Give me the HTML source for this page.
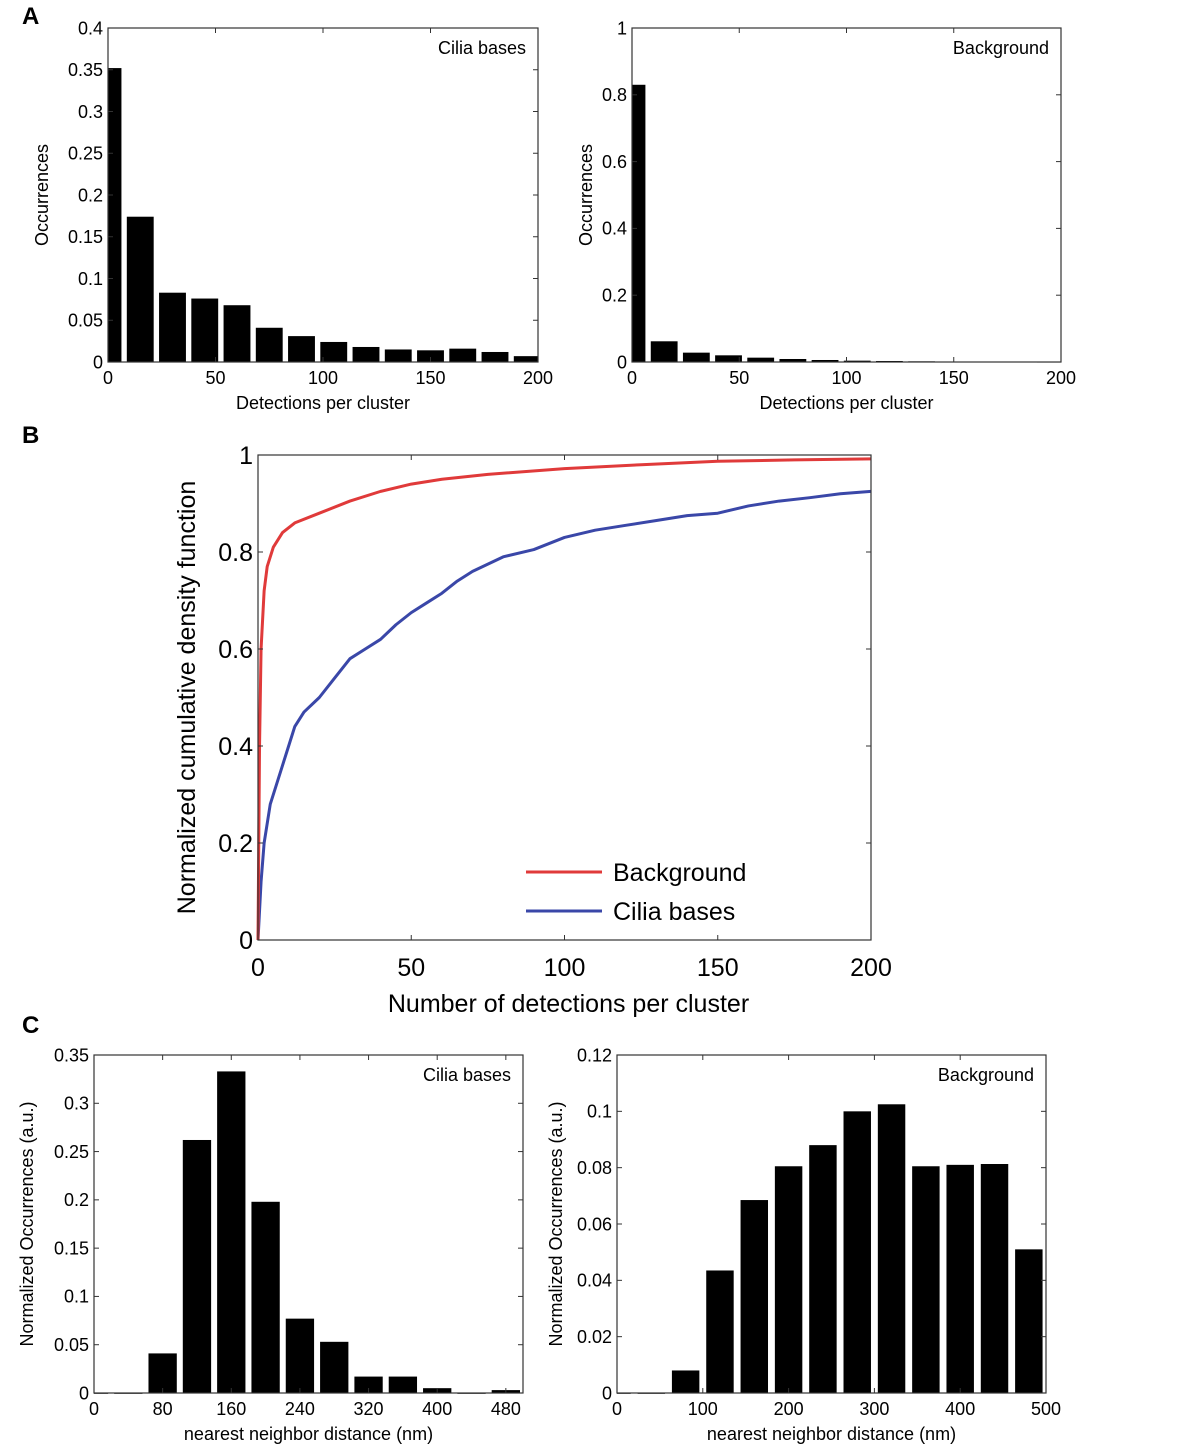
<!DOCTYPE html>
<html><head><meta charset="utf-8"><style>
html,body{margin:0;padding:0;background:#fff;}
svg{display:block;font-family:"Liberation Sans",Arial,sans-serif;}
</style></head><body>
<svg id="fig" width="1184" height="1448" viewBox="0 0 1184 1448">
<text x="22" y="24" font-size="24" font-weight="bold">A</text>
<text x="22" y="443" font-size="24" font-weight="bold">B</text>
<text x="22" y="1033" font-size="24" font-weight="bold">C</text>
</svg>
<script>
// Panel A left: cilia bases histogram
const aCenters = [0,15,30,45,60,75,90,105,120,135,150,165,180,195];
const aCiliaValues = [0.352,0.174,0.083,0.076,0.068,0.041,0.031,0.024,0.018,0.015,0.014,0.016,0.012,0.007];
const aCiliaYTicks = [0,0.05,0.1,0.15,0.2,0.25,0.3,0.35,0.4];
const aXTicks = [0,50,100,150,200];
// Panel A right: background histogram
const aBgValues = [0.83,0.062,0.028,0.02,0.013,0.009,0.006,0.004,0.003,0.002,0.0015,0.001,0.001,0.0008];
const aBgYTicks = [0,0.2,0.4,0.6,0.8,1];
// Panel B: CDFs
const bBgX = [0,0.5,1,2,3,5,8,12,20,30,40,50,60,75,100,125,150,175,200];
const bBgY = [0,0.4,0.6,0.72,0.77,0.81,0.84,0.86,0.88,0.905,0.925,0.94,0.95,0.96,0.972,0.98,0.987,0.99,0.992];
const bCiliaX = [0,1,2,4,6,8,10,12,15,20,25,30,35,40,45,50,55,60,65,70,75,80,90,100,110,120,130,140,150,160,170,180,190,200];
const bCiliaY = [0,0.12,0.2,0.28,0.32,0.36,0.4,0.44,0.47,0.5,0.54,0.58,0.6,0.62,0.65,0.675,0.695,0.715,0.74,0.76,0.775,0.79,0.805,0.83,0.845,0.855,0.865,0.875,0.88,0.895,0.905,0.912,0.92,0.925];
const bXTicks = [0,50,100,150,200];
const bYTicks = [0,0.2,0.4,0.6,0.8,1];
const bYTickLabels = ['0','0.2','0.4','0.6','0.8','1'];
// Panel C
const cCenters = [0,40,80,120,160,200,240,280,320,360,400,440,480];
const cCiliaValues = [0,0,0.041,0.262,0.333,0.198,0.077,0.053,0.017,0.017,0.005,0,0.003];
const cCiliaYTicks = [0,0.05,0.1,0.15,0.2,0.25,0.3,0.35];
const cCiliaXTicks = [0,80,160,240,320,400,480];
const cBgValues = [0,0,0.008,0.0435,0.0685,0.0805,0.088,0.1,0.1025,0.0805,0.081,0.0813,0.051];
const cBgYTicks = [0,0.02,0.04,0.06,0.08,0.1,0.12];
const cBgXTicks = [0,100,200,300,400,500];

const NS='http://www.w3.org/2000/svg';
const svg=document.getElementById('fig');
function mk(tag,attrs,parent){const e=document.createElementNS(NS,tag);for(const k in attrs)e.setAttribute(k,attrs[k]);(parent||svg).appendChild(e);return e;}
function fmt(v){return String(+v.toFixed(4));}

function axesFrame(g,box,xs,ys,xt,yt,fs,ytl,name,xoff){
  mk('rect',{x:box.l,y:box.t,width:box.r-box.l,height:box.b-box.t,fill:'none',stroke:'#333','stroke-width':1.2},g);
  xt.forEach((v,i)=>{const x=xs(v);
    mk('line',{x1:x,x2:x,y1:box.b,y2:box.b-5,stroke:'#333'},g);
    mk('line',{x1:x,x2:x,y1:box.t,y2:box.t+5,stroke:'#333'},g);
    const t=mk('text',{x:x,y:box.b+fs+xoff,'font-size':fs,'text-anchor':'middle'},g);
    
    
    t.textContent=fmt(v);});
  yt.forEach((v,i)=>{const y=ys(v);
    mk('line',{x1:box.l,x2:box.l+5,y1:y,y2:y,stroke:'#333'},g);
    mk('line',{x1:box.r,x2:box.r-5,y1:y,y2:y,stroke:'#333'},g);
    const t=mk('text',{x:box.l-5,y:y+fs*0.35,'font-size':fs,'text-anchor':'end'},g);
    
    
    t.textContent=ytl?ytl[i]:fmt(v);});
}

function histogram(name,box,xmax,ymax,centers,values,width,xt,yt,ylab,xlab,title,ylabX){
  const g=mk('g',{});
  
  
  const xs=v=>box.l+(v/xmax)*(box.r-box.l);
  const ys=v=>box.b-(v/ymax)*(box.b-box.t);
  centers.forEach((c,i)=>{
    let x0=Math.max(0,c-width/2), x1=Math.min(xmax,c+width/2);
    const h=Math.max(values[i],0);
    const r=mk('rect',{x:xs(x0),y:ys(h),width:xs(x1)-xs(x0),height:Math.max(ys(0)-ys(h),0.8),fill:'#000'},g);
    
    
  });
  axesFrame(g,box,xs,ys,xt,yt,18,null,name,4);
  const tt=mk('text',{x:box.r-12,y:box.t+26,'font-size':18,'text-anchor':'end'},g);
  
  
  tt.textContent=title;
  const xl=mk('text',{x:(box.l+box.r)/2,y:box.b+47,'font-size':18,'text-anchor':'middle'},g);
  
  
  xl.textContent=xlab;
  const yl=mk('text',{x:0,y:0,'font-size':18,'text-anchor':'middle',transform:`translate(${ylabX},${(box.t+box.b)/2}) rotate(-90)`},g);
  
  
  yl.textContent=ylab;
}

histogram('hist-a-cilia',{l:108,r:538,t:28,b:362},200,0.4,aCenters,aCiliaValues,12.5,aXTicks,aCiliaYTicks,'Occurrences','Detections per cluster','Cilia bases',48);
histogram('hist-a-background',{l:632,r:1061,t:28,b:362},200,1,aCenters,aBgValues,12.5,aXTicks,aBgYTicks,'Occurrences','Detections per cluster','Background',592);
histogram('hist-c-cilia',{l:94,r:523,t:1055,b:1393},500,0.35,cCenters,cCiliaValues,33,cCiliaXTicks,cCiliaYTicks,'Normalized Occurrences (a.u.)','nearest neighbor distance (nm)','Cilia bases',33);
histogram('hist-c-background',{l:617,r:1046,t:1055,b:1393},500,0.12,cCenters,cBgValues,32,cBgXTicks,cBgYTicks,'Normalized Occurrences (a.u.)','nearest neighbor distance (nm)','Background',562);

// Panel B
(function(){
  const box={l:258,r:871,t:455,b:940};
  const g=mk('g',{});
  
  
  const xs=v=>box.l+(v/200)*(box.r-box.l);
  const ys=v=>box.b-v*(box.b-box.t);
  const line=(X,Y,col,nm)=>{
    const p=mk('polyline',{points:X.map((x,i)=>xs(x)+','+ys(Y[i])).join(' '),fill:'none',stroke:col,'stroke-width':3,'stroke-linejoin':'round'},g);
    
    
  };
  line(bCiliaX,bCiliaY,'#3a47a8','cilia-bases-line');
  line(bBgX,bBgY,'#e03a3a','background-line');
  axesFrame(g,box,xs,ys,bXTicks,bYTicks,25,bYTickLabels,'cdf',11);
  const lg=mk('g',{},g);
  
  
  mk('line',{x1:526,x2:602,y1:872,y2:872,stroke:'#e03a3a','stroke-width':3},lg);
  mk('line',{x1:526,x2:602,y1:911,y2:911,stroke:'#3a47a8','stroke-width':3},lg);
  const l1=mk('text',{x:613,y:881,'font-size':25},lg);
  
  
  l1.textContent='Background';
  const l2=mk('text',{x:613,y:920,'font-size':25},lg);
  
  
  l2.textContent='Cilia bases';
  const xl=mk('text',{x:(box.l+box.r)/2+4,y:1012,'font-size':25,'text-anchor':'middle'},g);
  
  
  xl.textContent='Number of detections per cluster';
  const yl=mk('text',{x:0,y:0,'font-size':25,'text-anchor':'middle',transform:`translate(195,${(box.t+box.b)/2}) rotate(-90)`},g);
  
  
  yl.textContent='Normalized cumulative density function';
})();
</script>
</body></html>
